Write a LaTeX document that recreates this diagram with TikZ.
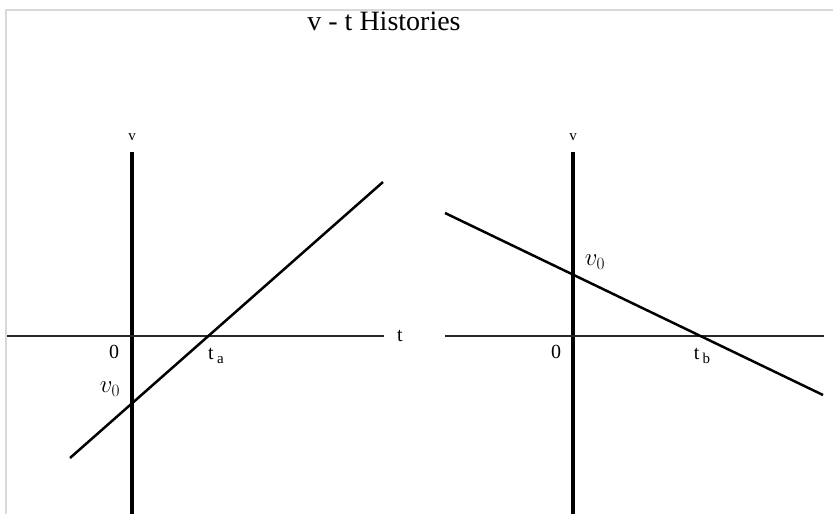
\documentclass[tikz,border=0pt]{standalone}
\usepackage{fontspec}
\setmainfont{Liberation Serif}
\usetikzlibrary{positioning}

\newcommand{\subtxt}[1]{\raisebox{-4pt}{\fontsize{15}{15}\selectfont #1}}

\begin{document}
\begin{tikzpicture}[
  x=1pt, y=-1pt,
  vaxis/.style={line width=3.2pt},
  haxis/.style={line width=1.4pt,black!85},
  vline/.style={line width=2.5pt},
  axlbl/.style={font=\fontsize{15}{15}\selectfont,inner sep=1pt},
  lbl/.style={font=\fontsize{20}{20}\selectfont,inner sep=1pt},
  vzero/.style={font=\fontsize{23}{23}\selectfont,inner sep=1pt}
]
\useasboundingbox (0,0) rectangle (833,514);
\draw[black!15,line width=1.2pt] (6,514) -- (6,10) -- (833,10);
\node[font=\fontsize{28}{28}\selectfont] (title) at (384,21) {v - t Histories};

% left history: v0 < 0, rising
\coordinate (lvtop) at (132,152);
\coordinate (lvbot) at (132,514);
\coordinate (lhl) at (7,336);
\coordinate (lhr) at (384,336);
\coordinate (lstart) at (70,458);
\coordinate (lend) at (383,182);
\draw[vaxis] (lvtop) -- (lvbot);
\draw[haxis] (lhl) -- (lhr);
\draw[vline] (lstart) -- (lend);
\node[axlbl] (lv) at (132,137) {v};
\node[lbl] (lt) at (400,336) {t};
\node[lbl] (lzero) at (114,352) {0};
\node[lbl] (ta) at (216,356) {t\,\subtxt{a}};
\node[vzero] (lvz) at (110,389) {$v_{\scriptstyle 0}$};

% right history: v0 > 0, falling
\coordinate (rvtop) at (573,152);
\coordinate (rvbot) at (573,514);
\coordinate (rhl) at (445,336);
\coordinate (rhr) at (824,336);
\coordinate (rstart) at (445,213);
\coordinate (rend) at (823,395);
\draw[vaxis] (rvtop) -- (rvbot);
\draw[haxis] (rhl) -- (rhr);
\draw[vline] (rstart) -- (rend);
\node[axlbl] (rv) at (573,137) {v};
\node[lbl] (rzero) at (556,352) {0};
\node[lbl] (tb) at (702,356) {t\,\subtxt{b}};
\node[vzero] (rvz) at (595,262) {$v_{\scriptstyle 0}$};
\end{tikzpicture}
\end{document}
